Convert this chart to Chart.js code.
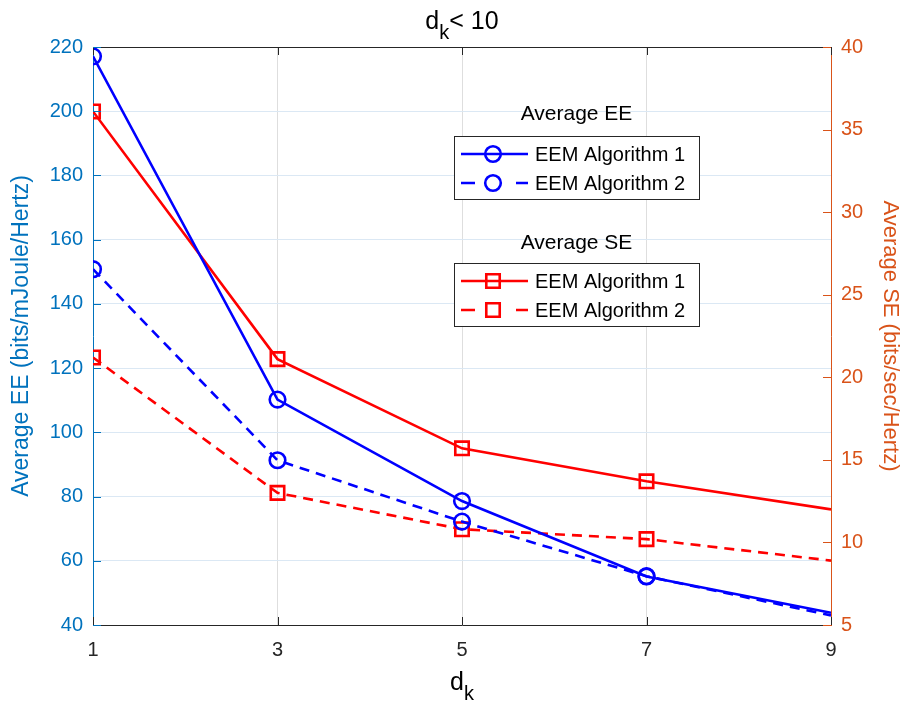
<!DOCTYPE html>
<html>
<head>
<meta charset="utf-8">
<title>Average EE and SE vs d_k</title>
<script src="https://cdn.jsdelivr.net/npm/chart.js@4.4.1/dist/chart.umd.min.js"></script>
<style>
  html, body { margin: 0; padding: 0; background: #fff; }
  #wrap { width: 911px; height: 708px; }
</style>
</head>
<body>
<div id="wrap"><canvas id="chart" width="911" height="708"></canvas></div>
<script>
// values
const dkValues = [1, 3, 5, 7, 9];
const eeAlg1 = [217.1, 110.2, 78.6, 55.1, 43.8];
const eeAlg2 = [150.8, 91.3, 72.2, 55.2, 43.0];
const seAlg1 = [36.1, 21.1, 15.7, 13.7, 12.0];
const seAlg2 = [21.2, 13.0, 10.8, 10.2, 8.9];
const markerShown = [true, true, true, true, false];

const xTicks = [1, 3, 5, 7, 9];
const eeTicks = [40, 60, 80, 100, 120, 140, 160, 180, 200, 220];
const seTicks = [5, 10, 15, 20, 25, 30, 35, 40];

const FONT = '"Liberation Sans", Arial, Helvetica, sans-serif';
const EE_AXIS = "#0072BD";
const SE_AXIS = "#D95319";
const DARK = "#262626";
const BLUE = "#0000FF";
const RED = "#FF0000";
const DASH = [10, 7];
const NONE = "rgba(0,0,0,0)";
const LW = 2.6;

function pts(ys) {
  return dkValues.map((x, i) => ({ x, y: ys[i] }));
}
function markerSize(style) {
  return style === "rect" ? 9.5 : 7.8;
}
function radii(r) {
  return markerShown.map((m) => (m ? r : 0));
}

function series(label, ys, color, style, dashed, axis) {
  const r = markerSize(style);
  return {
    label,
    data: pts(ys),
    yAxisID: axis,
    clip: 0,
    borderColor: color,
    backgroundColor: NONE,
    borderWidth: LW,
    borderDash: dashed ? DASH : [],
    pointStyle: style,
    pointRadius: radii(r),
    pointHoverRadius: radii(r),
    pointBorderWidth: LW,
    pointBorderColor: color,
    pointBackgroundColor: NONE,
    tension: 0,
    fill: false,
  };
}

const datasets = [
  series("EEM Algorithm 1", eeAlg1, BLUE, "circle", false, "y"),
  series("EEM Algorithm 2", eeAlg2, BLUE, "circle", true, "y"),
  series("EEM Algorithm 1", seAlg1, RED, "rect", false, "y1"),
  series("EEM Algorithm 2", seAlg2, RED, "rect", true, "y1"),
];

// ---------- extras: title with subscript, x label, inward ticks, legends ----------
function drawSub(ctx, x, y, base, sub, rest, size) {
  ctx.save();
  ctx.fillStyle = "#000";
  ctx.textBaseline = "alphabetic";
  ctx.textAlign = "left";
  const big = `${size}px ${FONT}`;
  const small = `${Math.round(size * 0.78)}px ${FONT}`;
  ctx.font = big;
  const wBase = ctx.measureText(base).width;
  const wRest = ctx.measureText(rest).width;
  ctx.font = small;
  const wSub = ctx.measureText(sub).width;
  let cx = x - (wBase + wSub + wRest) / 2;
  ctx.font = big;
  ctx.fillText(base, cx, y);
  cx += wBase;
  ctx.font = small;
  ctx.fillText(sub, cx, y + size * 0.38);
  cx += wSub;
  ctx.font = big;
  ctx.fillText(rest, cx, y);
  ctx.restore();
}

function drawLegend(ctx, chart, title, idx, box) {
  const { x, y, w, h, titleY } = box;
  ctx.save();
  ctx.fillStyle = "#fff";
  ctx.fillRect(x, y, w, h);
  ctx.strokeStyle = DARK;
  ctx.lineWidth = 1;
  ctx.strokeRect(x + 0.5, y + 0.5, w, h);
  ctx.fillStyle = "#000";
  ctx.font = `21px ${FONT}`;
  ctx.textAlign = "center";
  ctx.textBaseline = "middle";
  ctx.fillText(title, x + w / 2, titleY);
  idx.forEach((di, k) => {
    const ds = chart.data.datasets[di];
    const ry = y + 18 + k * 29;
    ctx.strokeStyle = ds.borderColor;
    ctx.lineWidth = ds.borderWidth;
    ctx.setLineDash(ds.borderDash.length ? [14, 41] : []);
    ctx.beginPath();
    ctx.moveTo(x + 7, ry);
    ctx.lineTo(x + 74, ry);
    ctx.stroke();
    ctx.setLineDash([]);
    ctx.fillStyle = NONE;
    Chart.helpers.drawPoint(ctx, {
      pointStyle: ds.pointStyle,
      radius: markerSize(ds.pointStyle),
      borderWidth: ds.pointBorderWidth,
      rotation: 0,
    }, x + 39, ry);
    ctx.fillStyle = "#000";
    ctx.font = `20px ${FONT}`;
    ctx.textAlign = "left";
    ctx.fillText(ds.label, x + 81, ry + 1);
  });
  ctx.restore();
}

const extras = {
  id: "extras",
  afterDraw(chart) {
    const { ctx, chartArea: a, scales } = chart;
    ctx.save();
    // top box edge
    ctx.strokeStyle = DARK;
    ctx.lineWidth = 1;
    ctx.beginPath();
    ctx.moveTo(a.left, a.top + 0.5);
    ctx.lineTo(a.right, a.top + 0.5);
    ctx.stroke();
    // inward ticks
    const tl = 8;
    xTicks.forEach((v) => {
      const px = Math.round(scales.x.getPixelForValue(v)) + 0.5;
      ctx.beginPath();
      ctx.moveTo(px, a.bottom);
      ctx.lineTo(px, a.bottom - tl);
      ctx.moveTo(px, a.top);
      ctx.lineTo(px, a.top + tl);
      ctx.stroke();
    });
    ctx.strokeStyle = EE_AXIS;
    eeTicks.forEach((v) => {
      const py = Math.round(scales.y.getPixelForValue(v)) + 0.5;
      ctx.beginPath();
      ctx.moveTo(a.left, py);
      ctx.lineTo(a.left + tl, py);
      ctx.stroke();
    });
    ctx.strokeStyle = SE_AXIS;
    seTicks.forEach((v) => {
      const py = Math.round(scales.y1.getPixelForValue(v)) + 0.5;
      ctx.beginPath();
      ctx.moveTo(a.right, py);
      ctx.lineTo(a.right - tl, py);
      ctx.stroke();
    });
    ctx.restore();

    drawSub(ctx, (a.left + a.right) / 2, 29, "d", "k", "< 10", 25);
    drawSub(ctx, (a.left + a.right) / 2, 690, "d", "k", "", 25);

    drawLegend(ctx, chart, "Average EE", [0, 1], { x: 454, y: 136, w: 245, h: 63, titleY: 114 });
    drawLegend(ctx, chart, "Average SE", [2, 3], { x: 454, y: 263, w: 245, h: 63, titleY: 243 });
  },
};

new Chart(document.getElementById("chart"), {
  type: "line",
  data: { datasets },
  options: {
    responsive: false,
    animation: false,
    layout: { padding: { top: 47, left: 0, right: 0, bottom: 0 } },
    plugins: { legend: { display: false }, title: { display: false }, tooltip: { enabled: false } },
    scales: {
      x: {
        type: "linear",
        min: 1,
        max: 9,
        afterBuildTicks: (s) => { s.ticks = xTicks.map((v) => ({ value: v })); },
        afterFit: (s) => { s.height = 83; },
        ticks: { color: DARK, font: { family: FONT, size: 20 }, padding: 13 },
        grid: { color: "#dedede", drawTicks: false },
        border: { color: DARK, width: 1 },
      },
      y: {
        type: "linear",
        position: "left",
        min: 40,
        max: 220,
        afterBuildTicks: (s) => { s.ticks = eeTicks.map((v) => ({ value: v })); },
        afterFit: (s) => { s.width = 93; },
        ticks: { color: EE_AXIS, font: { family: FONT, size: 20 }, padding: 10 },
        grid: { color: "#dbe8f4", drawTicks: false },
        border: { color: EE_AXIS, width: 1 },
        title: {
          display: true,
          text: "Average EE (bits/mJoule/Hertz)",
          color: EE_AXIS,
          font: { family: FONT, size: 23 },
          padding: { top: 8, bottom: 0 },
        },
      },
      y1: {
        type: "linear",
        position: "right",
        min: 5,
        max: 40,
        afterBuildTicks: (s) => { s.ticks = seTicks.map((v) => ({ value: v })); },
        afterFit: (s) => { s.width = 80; },
        ticks: { color: SE_AXIS, font: { family: FONT, size: 20 }, padding: 10 },
        grid: { display: false, drawTicks: false },
        border: { color: SE_AXIS, width: 1 },
        title: {
          display: true,
          text: "Average SE (bits/sec/Hertz)",
          color: SE_AXIS,
          font: { family: FONT, size: 22 },
          padding: { top: 8, bottom: 0 },
        },
      },
    },
  },
  plugins: [extras],
});
</script>
</body>
</html>
